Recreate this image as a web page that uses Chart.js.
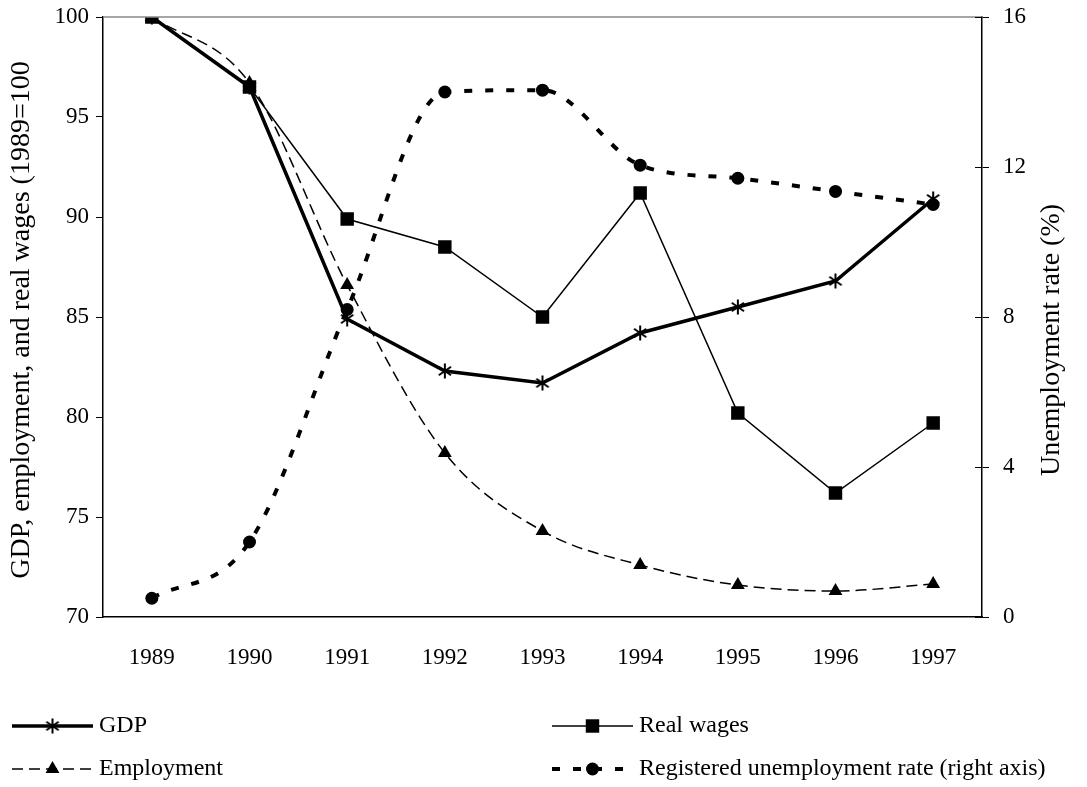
<!DOCTYPE html>
<html>
<head>
<meta charset="utf-8">
<script src="https://cdn.jsdelivr.net/npm/chart.js@4.4.0/dist/chart.umd.min.js"></script>
<style>
  html, body { margin: 0; padding: 0; background: #fff; }
  #chart { display: block; }
</style>
</head>
<body>
<canvas id="chart" width="1087" height="787"></canvas>
<script>
const categories = ['1989', '1990', '1991', '1992', '1993', '1994', '1995', '1996', '1997'];
const gdp = [100, 96.5, 84.9, 82.3, 81.7, 84.2, 85.5, 86.8, 90.9];
const realWages = [100, 96.5, 89.9, 88.5, 85.0, 91.2, 80.2, 76.2, 79.7];
const employment = [100, 96.7, 86.6, 78.2, 74.3, 72.6, 71.6, 71.3, 71.65];
const unemployment = [0.5, 2.0, 8.2, 14.0, 14.05, 12.05, 11.7, 11.35, 11.0];

const leftTicks = [70, 75, 80, 85, 90, 95, 100];
const rightTicks = [0, 4, 8, 12, 16];

const FONT = '"Liberation Serif", "Times New Roman", serif';
const tickFont = { family: FONT, size: 23 };

// 6-arm asterisk marker like the one Excel uses
function makeAsterisk(size) {
    const c = document.createElement('canvas');
    c.width = size; c.height = size;
    const g = c.getContext('2d');
    const m = size / 2, r = size / 2 - 1.5;
    g.strokeStyle = '#000';
    g.lineWidth = 2;
    [90, 35, 145].forEach(a => {
        const t = a * Math.PI / 180;
        g.beginPath();
        g.moveTo(m - Math.cos(t) * r, m - Math.sin(t) * r);
        g.lineTo(m + Math.cos(t) * r, m + Math.sin(t) * r);
        g.stroke();
    });
    return c;
}
const asterisk = makeAsterisk(18);

function drawMarker(ctx, style, x, y, r) {
    ctx.save();
    ctx.fillStyle = '#000';
    ctx.setLineDash([]);
    if (style === 'rect') {
        const s = Math.SQRT1_2 * r;
        ctx.fillRect(x - s, y - s, 2 * s, 2 * s);
    } else if (style === 'circle') {
        ctx.beginPath(); ctx.arc(x, y, r, 0, Math.PI * 2); ctx.fill();
    } else if (style === 'triangle') {
        ctx.beginPath();
        ctx.moveTo(x, y - r);
        ctx.lineTo(x + r * Math.sin(Math.PI * 2 / 3), y - r * Math.cos(Math.PI * 2 / 3));
        ctx.lineTo(x - r * Math.sin(Math.PI * 2 / 3), y - r * Math.cos(Math.PI * 2 / 3));
        ctx.closePath(); ctx.fill();
    } else {
        ctx.drawImage(style, x - style.width / 2, y - style.height / 2);
    }
    ctx.restore();
}

const legendItems = [
    { ds: 0, x: 12, y: 726 },
    { ds: 1, x: 552, y: 726 },
    { ds: 2, x: 12, y: 769 },
    { ds: 3, x: 552, y: 769 }
];

// keep the plot box where the reference has it
function noPad(s) {
    s.paddingTop = 0; s.paddingBottom = 0;
    s.paddingLeft = 0; s.paddingRight = 0;
}

const extras = {
    id: 'extras',
    afterDraw(chart) {
        const { ctx, chartArea: a } = chart;
        ctx.save();
        // gray plot-area top border
        ctx.strokeStyle = '#888';
        ctx.lineWidth = 1.5;
        ctx.beginPath(); ctx.moveTo(a.left, a.top); ctx.lineTo(a.right, a.top); ctx.stroke();

        // inner half of the right axis tick marks
        const y1 = chart.scales.y1;
        ctx.strokeStyle = '#000';
        ctx.lineWidth = 1;
        rightTicks.forEach(v => {
            const py = Math.round(y1.getPixelForValue(v)) + 0.5;
            ctx.beginPath(); ctx.moveTo(a.right - 7, py); ctx.lineTo(a.right, py); ctx.stroke();
        });

        // axis titles, both reading bottom to top
        ctx.fillStyle = '#000';
        ctx.font = '28px ' + FONT;
        ctx.textAlign = 'center';
        ctx.textBaseline = 'middle';
        [[22, 320, 'GDP, employment, and real wages (1989=100'], [1052, 340, 'Unemployment rate (%)']].forEach(([tx, ty, txt]) => {
            ctx.save();
            ctx.translate(tx, ty);
            ctx.rotate(-Math.PI / 2);
            ctx.fillText(txt, 0, 0);
            ctx.restore();
        });

        // legend in two columns
        ctx.font = '24px ' + FONT;
        ctx.textAlign = 'left';
        legendItems.forEach(it => {
            const ds = chart.data.datasets[it.ds];
            const len = 81;
            ctx.save();
            ctx.strokeStyle = '#000';
            ctx.lineWidth = ds.borderWidth;
            ctx.setLineDash(ds.borderDash || []);
            ctx.beginPath(); ctx.moveTo(it.x, it.y); ctx.lineTo(it.x + len, it.y); ctx.stroke();
            ctx.restore();
            drawMarker(ctx, ds.pointStyle, it.x + len / 2, it.y, ds.pointRadius);
            ctx.fillText(ds.label, it.x + len + 6, it.y);
        });
        ctx.restore();
    }
};

new Chart(document.getElementById('chart'), {
    type: 'line',
    data: {
        labels: categories,
        datasets: [
            {
                label: 'GDP',
                data: gdp,
                yAxisID: 'y',
                borderColor: '#000',
                borderWidth: 3.5,
                pointStyle: asterisk,
                pointRadius: 8,
                tension: 0
            },
            {
                label: 'Real wages',
                data: realWages,
                yAxisID: 'y',
                borderColor: '#000',
                backgroundColor: '#000',
                borderWidth: 1.5,
                pointStyle: 'rect',
                pointRadius: 9.5,
                pointBorderWidth: 0,
                tension: 0
            },
            {
                label: 'Employment',
                data: employment,
                yAxisID: 'y',
                borderColor: '#000',
                backgroundColor: '#000',
                borderWidth: 1.5,
                borderDash: [11, 6],
                pointStyle: 'triangle',
                pointRadius: 8,
                pointBorderWidth: 0,
                cubicInterpolationMode: 'monotone'
            },
            {
                label: 'Registered unemployment rate (right axis)',
                data: unemployment,
                yAxisID: 'y1',
                borderColor: '#000',
                backgroundColor: '#000',
                borderWidth: 4,
                borderDash: [8, 13],
                pointStyle: 'circle',
                pointRadius: 6.5,
                pointBorderWidth: 0,
                cubicInterpolationMode: 'monotone'
            }
        ]
    },
    options: {
        responsive: false,
        animation: false,
        layout: { padding: { top: 17, left: 0, right: 0, bottom: 0 } },
        plugins: {
            legend: { display: false },
            tooltip: { enabled: false }
        },
        scales: {
            x: {
                offset: true,
                grid: { display: false, drawTicks: false },
                border: { color: '#000', width: 1.5 },
                ticks: { color: '#000', font: tickFont, padding: 27 },
                afterFit: s => { s.height = 170; noPad(s); }
            },
            y: {
                position: 'left',
                min: leftTicks[0],
                max: leftTicks[leftTicks.length - 1],
                grid: { drawOnChartArea: false, tickLength: 7, color: '#000' },
                border: { color: '#000', width: 1.5 },
                ticks: { stepSize: 5, color: '#000', font: tickFont, padding: 7 },
                afterFit: s => { s.width = 103; noPad(s); }
            },
            y1: {
                position: 'right',
                min: rightTicks[0],
                max: rightTicks[rightTicks.length - 1],
                grid: { drawOnChartArea: false, tickLength: 7, color: '#000' },
                border: { color: '#000', width: 1.5 },
                ticks: { stepSize: 4, color: '#000', font: tickFont, padding: 14 },
                afterFit: s => { s.width = 105; noPad(s); }
            }
        }
    },
    plugins: [extras]
});
</script>
</body>
</html>
